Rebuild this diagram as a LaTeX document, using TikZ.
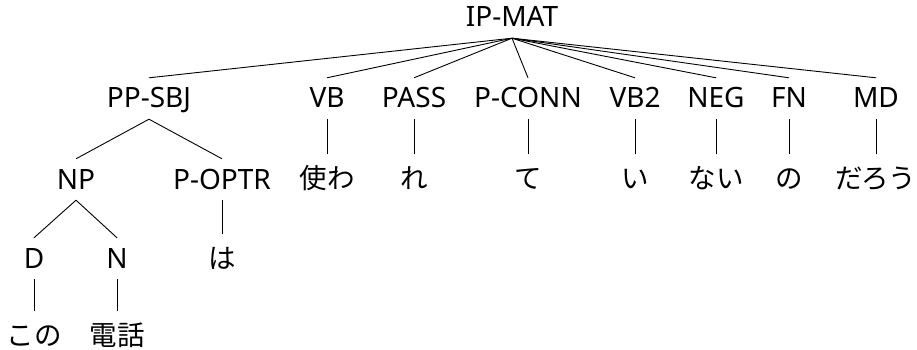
\documentclass[tikz,border=0pt]{standalone}
\usepackage{fontspec}
\setmainfont{Noto Sans}
\newfontfamily\jpfont{Noto Sans CJK JP}
\begin{document}
\begin{tikzpicture}[x=1pt,y=1pt,
  cat/.style={anchor=base, font=\fontsize{28}{32}\selectfont,
    text height=20pt, text depth=1pt, inner xsep=0pt, inner ysep=10pt},
  word/.style={anchor=base, font=\fontsize{27.5}{32}\selectfont\jpfont,
    text height=24pt, text depth=1pt, inner xsep=0pt, inner ysep=10pt},
  branch/.style={draw=black, line width=0.9pt}]
\useasboundingbox (0,0) rectangle (917,-350);

% root
\node[cat] (ip) at (512,-27) {IP-MAT};

% first level
\node[cat] (pp)    at (149,-108) {PP-SBJ};
\node[cat] (vb)    at (327,-108) {VB};
\node[cat] (pass)  at (414,-108) {PASS};
\node[cat] (pconn) at (528,-108) {P-CONN};
\node[cat] (vbtwo) at (635,-108) {VB2};
\node[cat] (neg)   at (716,-108) {NEG};
\node[cat] (fn)    at (789,-108) {FN};
\node[cat] (md)    at (876,-108) {MD};

% second level
\node[cat]  (np)    at (76,-189)  {NP};
\node[cat]  (poptr) at (222,-189) {P-OPTR};
\node[word] (w1) at (327,-188) {使わ};
\node[word] (w2) at (414,-188) {れ};
\node[word] (w3) at (528,-188) {て};
\node[word] (w4) at (635,-188) {い};
\node[word] (w5) at (716,-188) {ない};
\node[word] (w6) at (789,-188) {の};
\node[word] (w7) at (876,-188) {だろう};

% third level
\node[cat]  (d)  at (34,-268)  {D};
\node[cat]  (n)  at (117,-268) {N};
\node[word] (wa) at (222,-268) {は};

% fourth level
\node[word] (kono)  at (34,-345)  {この};
\node[word] (denwa) at (117,-345) {電話};

% branches
\foreach \c in {pp,vb,pass,pconn,vbtwo,neg,fn,md}
  \draw[branch] (ip.south) -- (\c.north);
\draw[branch] (pp.south) -- (np.north);
\draw[branch] (pp.south) -- (poptr.north);
\draw[branch] (vb.south) -- (w1.north);
\draw[branch] (pass.south) -- (w2.north);
\draw[branch] (pconn.south) -- (w3.north);
\draw[branch] (vbtwo.south) -- (w4.north);
\draw[branch] (neg.south) -- (w5.north);
\draw[branch] (fn.south) -- (w6.north);
\draw[branch] (md.south) -- (w7.north);
\draw[branch] (np.south) -- (d.north);
\draw[branch] (np.south) -- (n.north);
\draw[branch] (poptr.south) -- (wa.north);
\draw[branch] (d.south) -- (kono.north);
\draw[branch] (n.south) -- (denwa.north);
\end{tikzpicture}
\end{document}
